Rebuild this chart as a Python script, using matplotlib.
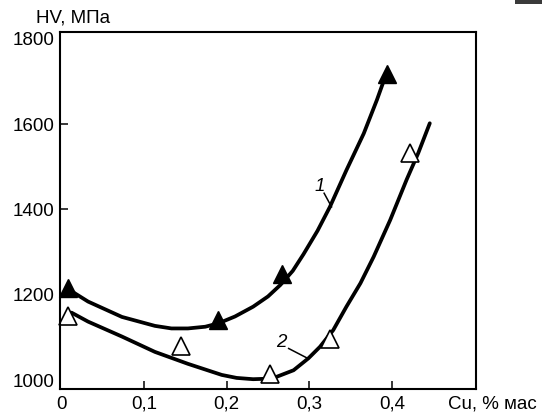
import matplotlib

matplotlib.use("Agg")
import matplotlib.pyplot as plt
from matplotlib.patches import Rectangle

# measured points (triangles)
cu_1 = [0.008, 0.19, 0.267, 0.394]
hv_1 = [1215, 1140, 1248, 1718]
cu_2 = [0.008, 0.145, 0.252, 0.325, 0.422]
hv_2 = [1150, 1080, 1015, 1096, 1533]

# hand-traced smooth curves
curve1_cu = [0.008, 0.032, 0.073, 0.113, 0.133, 0.153, 0.174, 0.19, 0.21, 0.232,
             0.25, 0.265, 0.28, 0.293, 0.31, 0.325, 0.345, 0.366, 0.382, 0.392]
curve1_hv = [1213, 1184, 1148, 1127, 1121, 1121, 1125, 1133, 1149, 1172,
             1196, 1223, 1256, 1295, 1350, 1406, 1492, 1578, 1657, 1711]
curve2_cu = [0.012, 0.032, 0.073, 0.113, 0.153, 0.194, 0.212, 0.232, 0.248, 0.261,
             0.281, 0.299, 0.313, 0.329, 0.345, 0.362, 0.378, 0.398, 0.418,
             0.432, 0.446]
curve2_hv = [1158, 1137, 1102, 1066, 1038, 1012, 1005, 1002, 1003, 1008,
             1023, 1051, 1078, 1117, 1172, 1227, 1289, 1375, 1470,
             1532, 1602]

x_ticks = [0, 0.1, 0.2, 0.3, 0.4]
x_labels = ["0", "0,1", "0,2", "0,3", "0,4"]
y_ticks = [1000, 1200, 1400, 1600, 1800]

plt.rcParams["font.family"] = ["Liberation Sans", "DejaVu Sans"]

fig = plt.figure(figsize=(5.42, 4.16), dpi=100)
ax = fig.add_axes([60 / 542, 1 - 389 / 416, 416 / 542, 357 / 416])

for cu, hv in ((curve1_cu, curve1_hv), (curve2_cu, curve2_hv)):
    ax.plot(cu, hv, color="black", lw=2.7,
            solid_capstyle="round", solid_joinstyle="round")
ax.plot(cu_1, hv_1, "^", color="black", ms=13, clip_on=False)
ax.plot(cu_2, hv_2, "^", mfc="white", mec="black", mew=1.2, ms=13, clip_on=False)

# curve labels with leaders
ax.text(0.313, 1453, "1", fontsize=13.5, style="italic", ha="center", va="center")
ax.plot([0.318, 0.327], [1438, 1406], color="black", lw=1.1)
ax.text(0.266, 1087, "2", fontsize=13.5, style="italic", ha="center", va="center")
ax.plot([0.275, 0.298], [1074, 1051], color="black", lw=1.1)

ax.set_xlim(-0.002, 0.502)
ax.set_ylim(979, 1816)
ax.set_xticks(x_ticks)
ax.set_xticklabels(x_labels)
ax.set_yticks(y_ticks)
ax.tick_params(direction="in", length=6, width=1.1, labelsize=13.5, colors="black")
ax.tick_params(axis="x", pad=5)
ax.tick_params(axis="y", pad=4)
for tick in (ax.xaxis.get_major_ticks()[0], ax.yaxis.get_major_ticks()[0],
             ax.yaxis.get_major_ticks()[-1]):
    tick.tick1line.set_visible(False)
for spine in ax.spines.values():
    spine.set_linewidth(1.5)

fig.text(36 / 542, 1 - 18 / 416, "HV, МПа", fontsize=13.5, va="center", ha="left")
fig.text(448 / 542, 1 - 404 / 416, "Cu, % мас", fontsize=13.5, va="center", ha="left")

# scan smudge in the corner
fig.patches.append(Rectangle((515 / 542, 1 - 4 / 416), 27 / 542, 4 / 416,
                             transform=fig.transFigure, color="#3a3a3a", lw=0))

fig.savefig("out.png", dpi=100)
